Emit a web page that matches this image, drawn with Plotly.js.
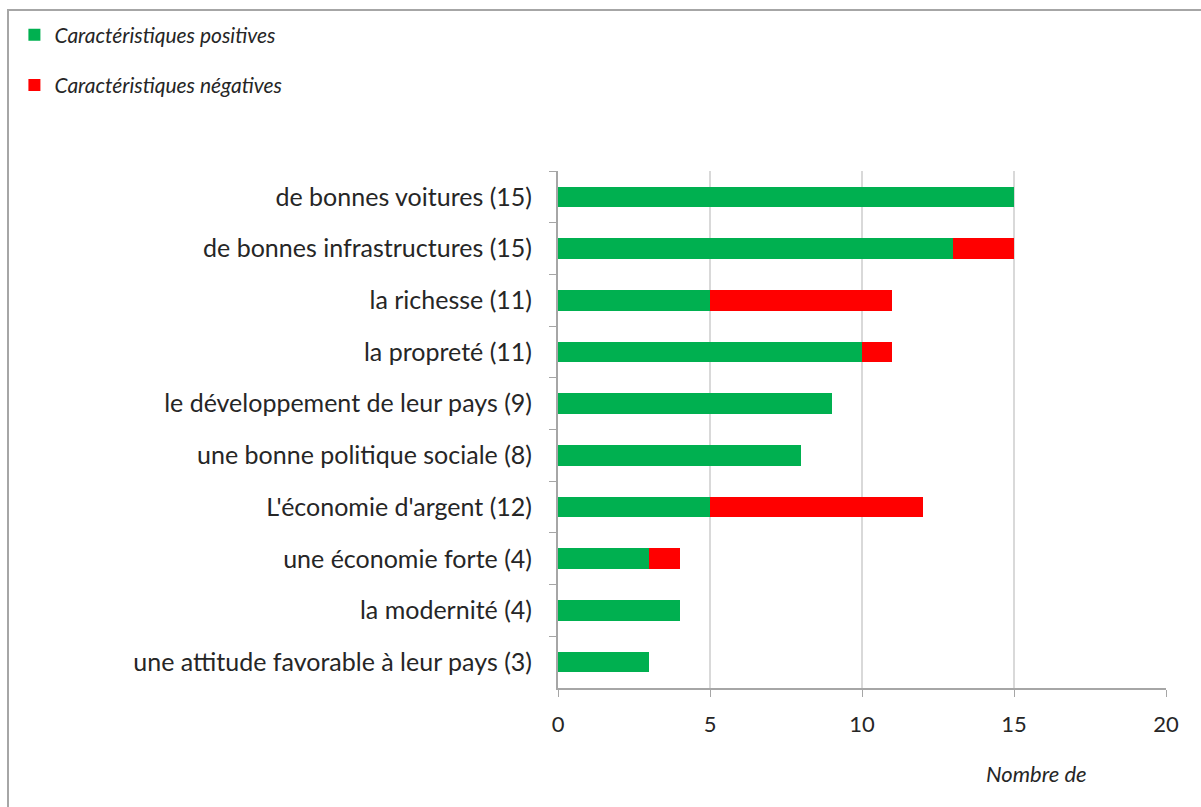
<!DOCTYPE html>
<html>
<head>
<meta charset="utf-8">
<script src="https://cdn.plot.ly/plotly-3.0.1.min.js"></script>
<style>
  html, body { margin: 0; padding: 0; background: #ffffff; }
  #chart { width: 1201px; height: 807px; }
</style>
</head>
<body>
<div id="chart"></div>
<script>
const categories = [
  "de bonnes voitures (15)",
  "de bonnes infrastructures (15)",
  "la richesse (11)",
  "la propreté (11)",
  "le développement de leur pays (9)",
  "une bonne politique sociale (8)",
  "L'économie d'argent (12)",
  "une économie forte (4)",
  "la modernité (4)",
  "une attitude favorable à leur pays (3)",
];
const positives = [15, 13, 5, 10, 9, 8, 5, 3, 4, 3];
const negatives = [0, 2, 6, 1, 0, 0, 7, 1, 0, 0];
const xTicks = [0, 5, 10, 15, 20];

const textColor = "#262626";
const fontFamily = "Lato, 'Open Sans', sans-serif";

const traces = [
  {
    type: "bar",
    orientation: "h",
    name: "Caractéristiques positives",
    legendgroup: "pos",
    y: categories,
    x: positives,
    marker: { color: "#00b050" },
    hoverinfo: "x+y",
  },
  {
    type: "bar",
    orientation: "h",
    name: "Caractéristiques négatives",
    legendgroup: "neg",
    y: categories,
    x: negatives,
    marker: { color: "#ff0000" },
    hoverinfo: "x+y",
  },
];

const layout = {
  width: 1201,
  height: 807,
  barmode: "stack",
  bargap: 0.6,
  paper_bgcolor: "#ffffff",
  plot_bgcolor: "#ffffff",
  font: { family: fontFamily, color: textColor, size: 21 },
  margin: { l: 558, r: 35, t: 171, b: 119, pad: 0 },
  showlegend: true,
  legend: {
    xref: "container",
    yref: "container",
    x: 0.012,
    y: 0.982,
    xanchor: "left",
    yanchor: "top",
    traceorder: "grouped",
    tracegroupgap: 20,
    font: { size: 21, style: "italic", color: textColor },
    bgcolor: "rgba(0,0,0,0)",
  },
  xaxis: {
    range: [0, 20],
    tickvals: xTicks,
    ticks: "outside",
    ticklen: 7,
    tickcolor: "#a6a6a6",
    ticklabelstandoff: 9,
    tickfont: { size: 22 },
    showgrid: true,
    gridcolor: "#d9d9d9",
    gridwidth: 2,
    showline: true,
    linecolor: "#a6a6a6",
    linewidth: 2,
    zeroline: false,
    fixedrange: true,
  },
  yaxis: {
    autorange: "reversed",
    ticks: "outside",
    tickson: "boundaries",
    ticklen: 7,
    tickcolor: "#a6a6a6",
    ticklabelstandoff: 19,
    tickfont: { size: 25 },
    showgrid: false,
    showline: true,
    linecolor: "#a6a6a6",
    linewidth: 2,
    fixedrange: true,
  },
  annotations: [
    {
      xref: "paper",
      yref: "paper",
      x: (1036 - 558) / 608,
      y: -(773 - 688) / 517,
      xanchor: "center",
      yanchor: "middle",
      showarrow: false,
      text: "Nombre de",
      font: { size: 22, style: "italic", color: textColor },
    },
  ],
  shapes: [
    {
      type: "rect",
      xref: "paper",
      yref: "paper",
      x0: (8 - 558) / 608,
      x1: (1230 - 558) / 608,
      y0: 1 + (171 - 10) / 517,
      y1: -(840 - 688) / 517,
      line: { color: "#a6a6a6", width: 2 },
      layer: "below",
    },
  ],
};

Plotly.newPlot("chart", traces, layout, { displayModeBar: false, staticPlot: true });
</script>
</body>
</html>
